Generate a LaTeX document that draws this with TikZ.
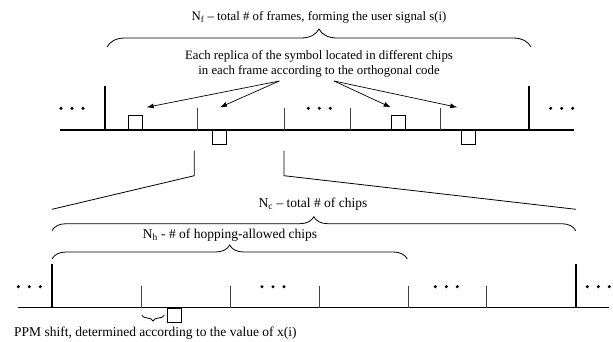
\documentclass[tikz,border=0pt]{standalone}
\usepackage{fontspec}
\setmainfont{Liberation Serif}
\usetikzlibrary{arrows.meta,decorations.pathreplacing,calc}
\tikzset{
  axisline/.style ={line width=1.1pt},
  thickmark/.style={line width=1.8pt},
  thinmark/.style ={line width=0.7pt, black!75},
  pulse/.style    ={draw, line width=0.7pt, minimum width=14pt, minimum height=14pt, inner sep=0pt},
  lbl/.style      ={font=\fontsize{12.8}{15}\selectfont, align=center, inner sep=0pt},
  lblb/.style     ={lbl, font=\fontsize{13.5}{15}\selectfont},
  arr/.style      ={-{Latex[length=7pt,width=5pt]}, line width=0.7pt},
  bracedn/.style  ={decorate, decoration={brace, amplitude=#1}, line width=0.8pt},
  zoomline/.style ={line width=0.8pt},
  threedots/.pic  ={\foreach \k in {-11,0,11} \fill (\k,0) circle (1.7pt);},
}

\begin{document}
\begin{tikzpicture}[x=1pt, y=-1pt]
  \useasboundingbox (0,0) rectangle (613,341);
  % --- frame row: N_f frames ---
  \node[lbl] (nf) at (319,17) {N\textsubscript{f} -- total \# of frames, forming the user signal s(i)};
  \draw[bracedn=18pt] (107,47) -- (531,47);
  \node[lbl] (replica) at (319,64) {Each replica of the symbol located in different chips\\in each frame according to the orthogonal code};
  \draw[axisline] (60,130) -- (574,130);
  \foreach \x in {105.3,529} \draw[thickmark] (\x,86) -- (\x,130);
  \foreach \x in {197.7,284,350.7,440} \draw[thinmark] (\x,108) -- (\x,130);
  \foreach \x in {72,319.3,561.7} \pic at (\x,108.3) {threedots};
  \node[pulse, anchor=south west] (p1) at (127.7,130) {};
  \node[pulse, anchor=north west] (p2) at (212.3,130) {};
  \node[pulse, anchor=south west] (p3) at (390.7,130) {};
  \node[pulse, anchor=north west] (p4) at (461,130) {};
  % arrows from the text to the replicas
  \coordinate (s1) at (279.3,81); \coordinate (s2) at (334,81);
  \coordinate (t1) at (146.7,107.3); \coordinate (t2) at (220,107.3);
  \coordinate (t3) at (390.7,107.3); \coordinate (t4) at (457.3,107.3);
  \draw[arr] (s1) -- (t1); \draw[arr] (s1) -- (t2);
  \draw[arr] (s2) -- (t3); \draw[arr] (s2) -- (t4);
  % --- zoom into one frame ---
  \coordinate (za) at (194.3,150.7); \coordinate (zb) at (284,150.7);
  \draw[zoomline] (za) -- (194.3,175.7) -- (52,209.3);
  \draw[zoomline] (zb) -- (284,175.7) -- (576,209.3);
  % --- chip row: N_c chips ---
  \node[lblb] (nc) at (313,204) {N\textsubscript{c} -- total \# of chips};
  \draw[bracedn=14pt] (52,230.7) -- (575.7,230.7);
  \node[lblb] (nh) at (230,235) {N\textsubscript{h} - \# of hopping-allowed chips};
  \draw[bracedn=14pt] (52,259) -- (407.3,259);
  \draw[axisline] (18,307.7) -- (609,307.7);
  \foreach \x in {51.7,576} \draw[thickmark] (\x,264) -- (\x,307.7);
  \foreach \x in {141.7,229.9,319.8,408.3,486.7} \draw[thinmark] (\x,286) -- (\x,307.7);
  \foreach \x in {29.3,273,446.3,598.3} \pic at (\x,286.7) {threedots};
  \node[pulse, anchor=north west] (p5) at (166.7,307.7) {};
  \draw[bracedn=6pt] (164.3,315) -- (141.7,315);
  \node[lblb, anchor=west] (ppm) at (14,333) {PPM shift, determined according to the value of x(i)};
\end{tikzpicture}
\end{document}
